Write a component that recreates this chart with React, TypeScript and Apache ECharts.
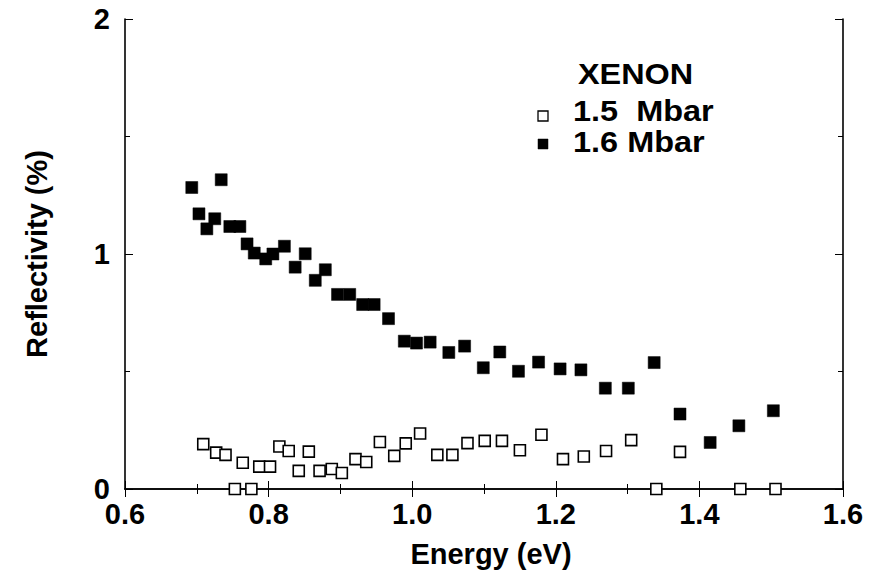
import React, { useEffect, useRef } from "react";
import * as echarts from "echarts";

const xTicks = [0.6, 0.8, 1.0, 1.2, 1.4, 1.6];
const yTicks = [0, 1, 2];

const energy16 = [0.693, 0.703, 0.714, 0.725, 0.734, 0.746, 0.76, 0.77, 0.78, 0.796, 0.806, 0.822, 0.837, 0.851, 0.865, 0.879, 0.896, 0.913, 0.931, 0.947, 0.967, 0.989, 1.006, 1.025, 1.051, 1.073, 1.099, 1.122, 1.148, 1.176, 1.206, 1.235, 1.269, 1.301, 1.337, 1.373, 1.415, 1.455, 1.503];
const refl16 = [1.283, 1.171, 1.107, 1.15, 1.316, 1.117, 1.117, 1.043, 1.004, 0.979, 1.0, 1.033, 0.944, 1.001, 0.888, 0.933, 0.828, 0.828, 0.785, 0.785, 0.725, 0.629, 0.621, 0.625, 0.581, 0.608, 0.516, 0.583, 0.501, 0.54, 0.511, 0.507, 0.429, 0.429, 0.538, 0.319, 0.198, 0.269, 0.333];

const energy15 = [0.709, 0.727, 0.74, 0.753, 0.764, 0.776, 0.787, 0.802, 0.815, 0.828, 0.842, 0.856, 0.871, 0.888, 0.902, 0.921, 0.936, 0.955, 0.975, 0.991, 1.011, 1.035, 1.056, 1.077, 1.101, 1.125, 1.15, 1.18, 1.21, 1.239, 1.27, 1.305, 1.34, 1.373, 1.457, 1.506];
const refl15 = [0.191, 0.155, 0.145, 0.0, 0.112, 0.0, 0.095, 0.095, 0.181, 0.162, 0.077, 0.159, 0.077, 0.085, 0.068, 0.127, 0.115, 0.2, 0.141, 0.194, 0.236, 0.145, 0.145, 0.195, 0.205, 0.205, 0.165, 0.231, 0.127, 0.138, 0.162, 0.208, 0.0, 0.158, 0.0, 0.0];

const legendTitle = "XENON";
const legendLabels = ["1.5  Mbar", "1.6 Mbar"];

const FONT = "Liberation Sans, Arial, Helvetica, sans-serif";

export default function App() {
  const ref = useRef<HTMLDivElement>(null);
  useEffect(() => {
    if (!ref.current) return;
    const chart = echarts.init(ref.current, undefined, { renderer: "svg" });
    const axisLine = { show: true, lineStyle: { color: "#000", width: 1.6 } };
    const tick = { show: true, inside: true, length: 8, lineStyle: { color: "#000", width: 1 } };
    const minor = { show: true, splitNumber: 2, length: 5, lineStyle: { color: "#000", width: 1 } };
    const xBase = {
      type: "value" as const,
      min: xTicks[0],
      max: xTicks[xTicks.length - 1],
      interval: 0.2,
      axisLine,
      axisTick: tick,
      minorTick: minor,
      splitLine: { show: false },
    };
    const yBase = {
      type: "value" as const,
      min: yTicks[0],
      max: yTicks[yTicks.length - 1],
      interval: 1,
      axisLine,
      axisTick: tick,
      minorTick: minor,
      splitLine: { show: false },
    };
    const labelStyle = { fontFamily: FONT, fontSize: 29, fontWeight: "bold" as const, color: "#000" };
    chart.setOption({
      animation: false,
      backgroundColor: "#fff",
      grid: { left: 125, right: 41, top: 19, bottom: 89, containLabel: false },
      xAxis: [
        {
          ...xBase,
          position: "bottom",
          name: "Energy (eV)",
          nameLocation: "middle",
          nameGap: 50,
          nameTextStyle: { ...labelStyle, padding: [0, 0, 0, 14] },
          axisLabel: { ...labelStyle, margin: 10, formatter: (v: number) => v.toFixed(1) },
        },
        { ...xBase, position: "top", axisLabel: { show: false } },
      ],
      yAxis: [
        {
          ...yBase,
          position: "left",
          name: "Reflectivity (%)",
          nameLocation: "middle",
          nameGap: 74,
          nameRotate: 90,
          nameTextStyle: labelStyle,
          axisLabel: { ...labelStyle, margin: 15, formatter: (v: number) => String(v) },
        },
        { ...yBase, position: "right", axisLabel: { show: false } },
      ],
      series: [
        {
          name: legendLabels[1],
          type: "scatter",
          symbol: "rect",
          symbolSize: 12,
          itemStyle: { color: "#000", borderColor: "#000", borderWidth: 0.5, opacity: 1 },
          data: energy16.map((e, i) => [e, refl16[i]]),
          clip: false,
        },
        {
          name: legendLabels[0],
          type: "scatter",
          symbol: "rect",
          symbolSize: 11,
          itemStyle: { color: "#fff", borderColor: "#000", borderWidth: 1.6, opacity: 1 },
          data: energy15.map((e, i) => [e, refl15[i]]),
          clip: false,
          z: 3,
        },
      ],
      graphic: [
        {
          type: "text",
          x: 578,
          y: 74,
          scaleX: 1.08,
          style: { text: legendTitle, fontFamily: FONT, fontSize: 30, fontWeight: "bold", fill: "#000", verticalAlign: "middle", align: "left" },
        },
        {
          type: "rect",
          shape: { x: 538, y: 111, width: 10, height: 10 },
          style: { fill: "#fff", stroke: "#000", lineWidth: 1.3 },
        },
        {
          type: "text",
          x: 573,
          y: 111,
          scaleX: 1.12,
          style: { text: legendLabels[0], fontFamily: FONT, fontSize: 29, fontWeight: "bold", fill: "#000", verticalAlign: "middle", align: "left" },
        },
        {
          type: "rect",
          shape: { x: 538, y: 139, width: 10, height: 10 },
          style: { fill: "#000", stroke: "#000", lineWidth: 0.5 },
        },
        {
          type: "text",
          x: 573,
          y: 142,
          scaleX: 1.12,
          style: { text: legendLabels[1], fontFamily: FONT, fontSize: 29, fontWeight: "bold", fill: "#000", verticalAlign: "middle", align: "left" },
        },
      ],
    });
    return () => chart.dispose();
  }, []);
  return <div ref={ref} style={{ width: 884, height: 578, position: "absolute", left: 0, top: 0 }} />;
}
